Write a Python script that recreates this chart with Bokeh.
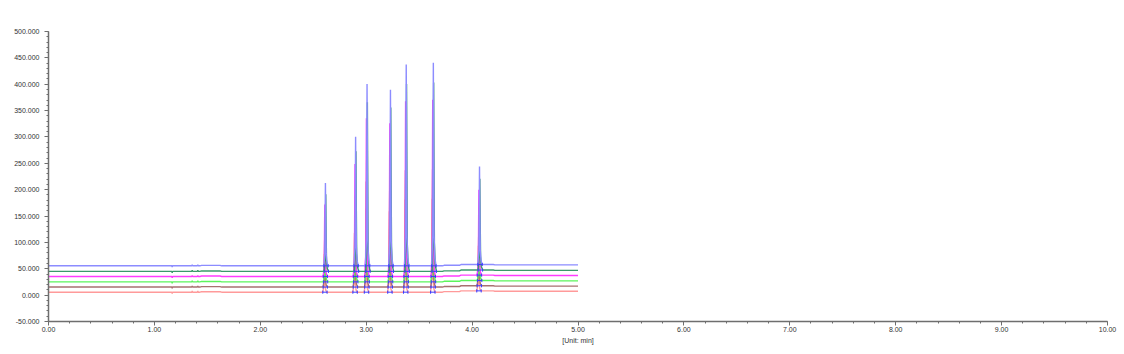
import numpy as np
from bokeh.plotting import figure
from bokeh.models import Range1d, FixedTicker, PrintfTickFormatter, Label
from bokeh.embed import file_html
from bokeh.resources import INLINE

# ---------------- data ----------------
trace_colors = ["#ff9a9a", "#a87070", "#5cf55c", "#ff3cff", "#3a9a6a", "#8c8cff"]
trace_offsets = [5.6, 15.3, 25.2, 35.4, 45.1, 55.6]          # pA, baseline of each trace
trace_scales = [0.46, 0.58, 0.67, 0.87, 0.93, 1.00]           # relative peak size per trace
trace_shifts = [-0.010, -0.007, -0.004, -0.006, 0.003, 0.000]  # min, retention shift per trace
peak_times = [2.615, 2.900, 3.008, 3.229, 3.378, 3.634, 4.070]  # min
peak_heights = [157, 245, 345, 334, 382, 385, 186]             # pA above baseline (top trace)
peak_starts = [2.600, 2.884, 2.992, 3.213, 3.362, 3.618, 4.054]
peak_ends = [2.641, 2.926, 3.034, 3.255, 3.404, 3.660, 4.096]
drift_times = [0.00, 1.43, 1.62, 3.72, 3.88, 4.20, 5.00]
drift_levels = [0.0, 0.8, 0.0, 1.0, 2.5, 1.8, 1.8]
glitch_times = [1.168, 1.357, 1.410]
glitch_sizes = [-2.5, 2.0, 2.0]
x_ticks = [0, 1, 2, 3, 4, 5, 6, 7, 8, 9, 10]
y_ticks = [-50, 0, 50, 100, 150, 200, 250, 300, 350, 400, 450, 500]
x_minor = [round(0.2 * k, 1) for k in range(51)]
y_minor = list(range(-50, 501, 10))

# ---------------- figure ----------------
p = figure(width=1124, height=354, output_backend="svg", toolbar_location=None,
           x_range=Range1d(0, 10), y_range=Range1d(-50, 500),
           min_border_left=48, min_border_right=17, min_border_top=31, min_border_bottom=33)
p.outline_line_color = None
p.xgrid.visible = False
p.ygrid.visible = False
p.background_fill_color = "white"
p.border_fill_color = "white"


def level_at(t):
    k = int(np.searchsorted(drift_times, t, side="right")) - 1
    return drift_levels[max(k, 0)]


mark_x0, mark_x1, mark_y0, mark_y1 = [], [], [], []

for color, off, sc, sh in zip(trace_colors, trace_offsets, trace_scales, trace_shifts):
    pts = [(drift_times[0], off + drift_levels[0])]
    for k in range(1, len(drift_times)):
        pts.append((drift_times[k], off + drift_levels[k - 1]))
        pts.append((drift_times[k] + 0.015, off + drift_levels[k]))
    pts = [q for q in pts if q[0] <= 5.0]
    for g, s in zip(glitch_times, glitch_sizes):
        b = off + level_at(g)
        pts += [(g - 0.004, b), (g, b + s), (g + 0.004, b)]
    for t, h, ts, te in zip(peak_times, peak_heights, peak_starts, peak_ends):
        t, ts, te = t + sh, ts + sh, te + sh
        b = off + level_at(t)
        hh = h * sc
        pts += [(ts, b), (t - 0.005, b + 0.15 * hh), (t - 0.002, b + 0.7 * hh), (t, b + hh),
                (t + 0.003, b + 0.6 * hh), (t + 0.007, b + 0.15 * hh),
                (t + 0.014, b + 0.04 * hh), (te, b)]
        # integration baseline markers
        mark_x0 += [ts, ts, te]
        mark_x1 += [te, ts, te]
        mark_y0 += [b, b - 3, b - 3]
        mark_y1 += [b, b + 3, b + 3]
    pts.sort(key=lambda q: q[0])
    xs = [q[0] for q in pts]
    ys = [q[1] for q in pts]
    p.line(xs, ys, line_color=color, line_width=1.4)

p.segment(mark_x0, mark_y0, mark_x1, mark_y1, line_color="#3a3aff", line_width=1)

# ---------------- axes ----------------
for ax in (p.xaxis[0], p.yaxis[0]):
    ax.axis_line_color = "#6e6e6e"
    ax.axis_line_width = 1.5
    ax.major_tick_line_color = "#6e6e6e"
    ax.minor_tick_line_color = "#6e6e6e"
    ax.major_tick_in = 0
    ax.major_tick_out = 4
    ax.minor_tick_in = 0
    ax.minor_tick_out = 2
    ax.major_label_text_font = "Liberation Sans"
    ax.major_label_text_font_size = "7px"
    ax.major_label_text_color = "#333333"

p.xaxis[0].ticker = FixedTicker(ticks=x_ticks, minor_ticks=x_minor)
p.xaxis[0].formatter = PrintfTickFormatter(format="%.2f")
p.xaxis[0].major_label_standoff = 1
p.xaxis[0].axis_label = "[Unit: min]"
p.xaxis[0].axis_label_text_font = "Liberation Sans"
p.xaxis[0].axis_label_text_font_size = "7px"
p.xaxis[0].axis_label_text_font_style = "normal"
p.xaxis[0].axis_label_text_color = "#333333"
p.xaxis[0].axis_label_standoff = 2

p.yaxis[0].ticker = FixedTicker(ticks=y_ticks, minor_ticks=y_minor)
p.yaxis[0].formatter = PrintfTickFormatter(format="%.3f")
p.yaxis[0].major_label_standoff = 5

p.add_layout(Label(x=0, y=528.5, text="[pA]", text_font="Liberation Sans",
                   text_font_size="7px", text_color="#333333",
                   text_align="center", text_baseline="middle"))

open("out.html", "w").write(file_html(p, INLINE))
